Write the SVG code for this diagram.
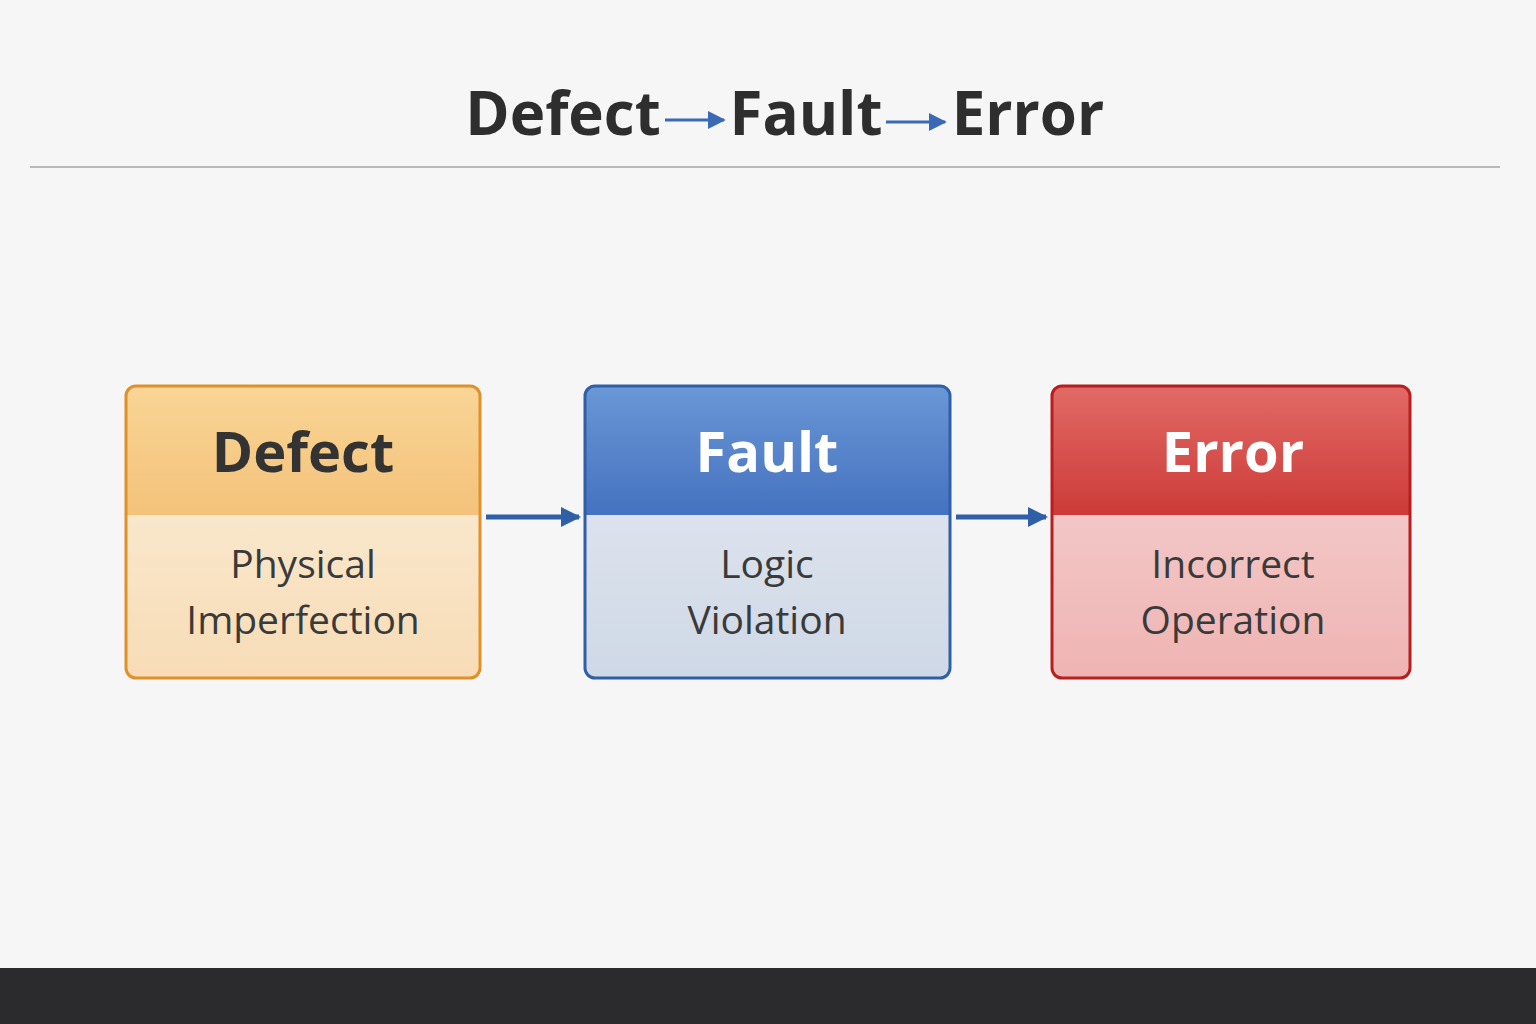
<svg xmlns="http://www.w3.org/2000/svg" width="1536" height="1024" viewBox="0 0 1536 1024">
<style>
.t{font-family:"Open Sans","Noto Sans",sans-serif}
.h{font-size:56px;font-weight:700;text-anchor:middle}
.b{font-size:39px;fill:#3a3a3a;text-anchor:middle}
</style>
<defs>
<linearGradient id="go" x1="0" y1="0" x2="0" y2="1"><stop offset="0" stop-color="#f9d596"/><stop offset="1" stop-color="#f4c27a"/></linearGradient>
<linearGradient id="gob" x1="0" y1="0" x2="0" y2="1"><stop offset="0" stop-color="#fbf0dc"/><stop offset="1" stop-color="#f7dcb6"/></linearGradient>
<linearGradient id="gb" x1="0" y1="0" x2="0" y2="1"><stop offset="0" stop-color="#6a97d6"/><stop offset="1" stop-color="#4572bf"/></linearGradient>
<linearGradient id="gbb" x1="0" y1="0" x2="0" y2="1"><stop offset="0" stop-color="#e6ebf3"/><stop offset="1" stop-color="#cfd8e6"/></linearGradient>
<linearGradient id="gr" x1="0" y1="0" x2="0" y2="1"><stop offset="0" stop-color="#e26a66"/><stop offset="1" stop-color="#cc3b38"/></linearGradient>
<linearGradient id="grb" x1="0" y1="0" x2="0" y2="1"><stop offset="0" stop-color="#f6d6d5"/><stop offset="1" stop-color="#eeb4b3"/></linearGradient>
<marker id="ah" viewBox="0 0 10 10" refX="9" refY="5" markerWidth="4" markerHeight="4" orient="auto"><path d="M0,0L10,5L0,10z" fill="#2f5fa6"/></marker>
<marker id="ah2" viewBox="0 0 10 10" refX="9" refY="5" markerWidth="6" markerHeight="6" orient="auto"><path d="M0,0L10,5L0,10z" fill="#3a6ab5"/></marker>
</defs>
<rect width="1536" height="1024" fill="#f6f6f6"/>
<rect y="968" width="1536" height="56" fill="#2b2b2e"/>
<g id="title">
<text class="t" x="563" y="135" font-size="60" font-weight="700" fill="#2e2e2e" text-anchor="middle">Defect</text>
<text class="t" x="806" y="135" font-size="60" font-weight="700" fill="#2e2e2e" text-anchor="middle">Fault</text>
<text class="t" x="1028" y="135" font-size="60" font-weight="700" fill="#2e2e2e" text-anchor="middle">Error</text>
<line x1="665" y1="120" x2="724" y2="120" stroke="#3a6ab5" stroke-width="3" marker-end="url(#ah2)"/>
<line x1="886" y1="122" x2="945" y2="122" stroke="#3a6ab5" stroke-width="3" marker-end="url(#ah2)"/>
<line x1="30" y1="167" x2="1500" y2="167" stroke="#b8b8b8" stroke-width="2"/>
</g>
<g id="defect">
<rect x="126" y="386" width="354" height="292" rx="10" fill="url(#gob)"/>
<path d="M136,386H470a10,10 0 0 1 10,10V515H126V396a10,10 0 0 1 10,-10z" fill="url(#go)"/>
<rect x="126" y="386" width="354" height="292" rx="10" fill="none" stroke="#e0902a" stroke-width="3"/>
<text class="t h" x="303" y="472" fill="#333">Defect</text>
<text class="t b" x="303" y="578">Physical</text>
<text class="t b" x="303" y="634">Imperfection</text>
</g>
<g id="fault">
<rect x="585" y="386" width="365" height="292" rx="10" fill="url(#gbb)"/>
<path d="M595,386H940a10,10 0 0 1 10,10V515H585V396a10,10 0 0 1 10,-10z" fill="url(#gb)"/>
<rect x="585" y="386" width="365" height="292" rx="10" fill="none" stroke="#2f5fa6" stroke-width="3"/>
<text class="t h" x="767" y="472" fill="#fff">Fault</text>
<text class="t b" x="767" y="578">Logic</text>
<text class="t b" x="767" y="634">Violation</text>
</g>
<g id="error">
<rect x="1052" y="386" width="358" height="292" rx="10" fill="url(#grb)"/>
<path d="M1062,386H1400a10,10 0 0 1 10,10V515H1052V396a10,10 0 0 1 10,-10z" fill="url(#gr)"/>
<rect x="1052" y="386" width="358" height="292" rx="10" fill="none" stroke="#b81e1e" stroke-width="3"/>
<text class="t h" x="1233" y="472" fill="#fff">Error</text>
<text class="t b" x="1233" y="578">Incorrect</text>
<text class="t b" x="1233" y="634">Operation</text>
</g>
<g id="connectors">
<line x1="486" y1="517" x2="579" y2="517" stroke="#2f5fa6" stroke-width="5" marker-end="url(#ah)"/>
<line x1="956" y1="517" x2="1046" y2="517" stroke="#2f5fa6" stroke-width="5" marker-end="url(#ah)"/>
</g>
</svg>
